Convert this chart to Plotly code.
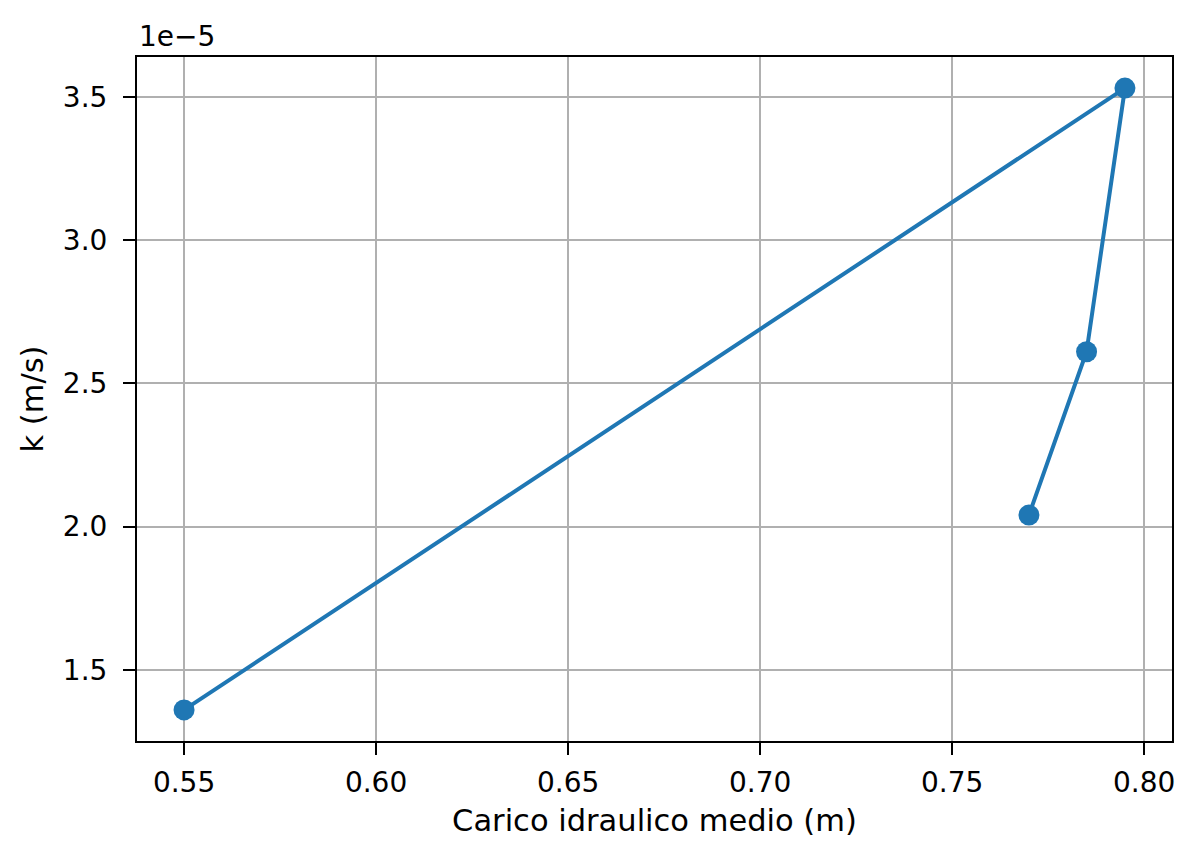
import plotly.graph_objects as go

# carico idraulico medio (m) e conducibilità k (m/s)
carico = [0.770, 0.785, 0.795, 0.550]
k = [2.04e-5, 2.61e-5, 3.53e-5, 1.36e-5]

x_ticks = [0.55, 0.60, 0.65, 0.70, 0.75, 0.80]
y_ticks = [1.5e-5, 2.0e-5, 2.5e-5, 3.0e-5, 3.5e-5]
y_ticktext = ["1.5", "2.0", "2.5", "3.0", "3.5"]

font = dict(family="DejaVu Sans", size=28, color="black")
title_font = dict(family="DejaVu Sans", size=30.5, color="black")

fig = go.Figure()
fig.add_trace(go.Scatter(
    x=carico, y=k, mode="lines+markers",
    line=dict(color="#1f77b4", width=4),
    marker=dict(color="#1f77b4", size=21),
    hoverinfo="skip", showlegend=False,
))

axis_common = dict(
    showgrid=True, gridcolor="#b0b0b0", gridwidth=2,
    showline=True, linecolor="black", linewidth=2, mirror=True,
    ticks="outside", ticklen=12, tickwidth=2, tickcolor="black",
    zeroline=False, tickfont=font,
)

fig.update_layout(
    width=1200, height=859,
    margin=dict(l=129, r=36, t=49, b=126),
    paper_bgcolor="white", plot_bgcolor="white",
    font=font,
    xaxis=dict(
        range=[0.53775, 0.80725], tickvals=x_ticks, tickformat=".2f",
        ticklabelstandoff=3,
        title=dict(text="Carico idraulico medio (m)", font=title_font, standoff=12),
        **axis_common,
    ),
    yaxis=dict(
        range=[1.2515e-5, 3.6385e-5], tickvals=y_ticks, ticktext=y_ticktext,
        ticklabelstandoff=10,
        title=dict(text="k (m/s)", font=title_font, standoff=10),
        **axis_common,
    ),
    annotations=[dict(
        text="1e\u22125", xref="paper", yref="paper", x=0, y=1,
        xanchor="left", yanchor="bottom", yshift=2, showarrow=False, font=font,
    )],
)

fig.write_html("out.html")
